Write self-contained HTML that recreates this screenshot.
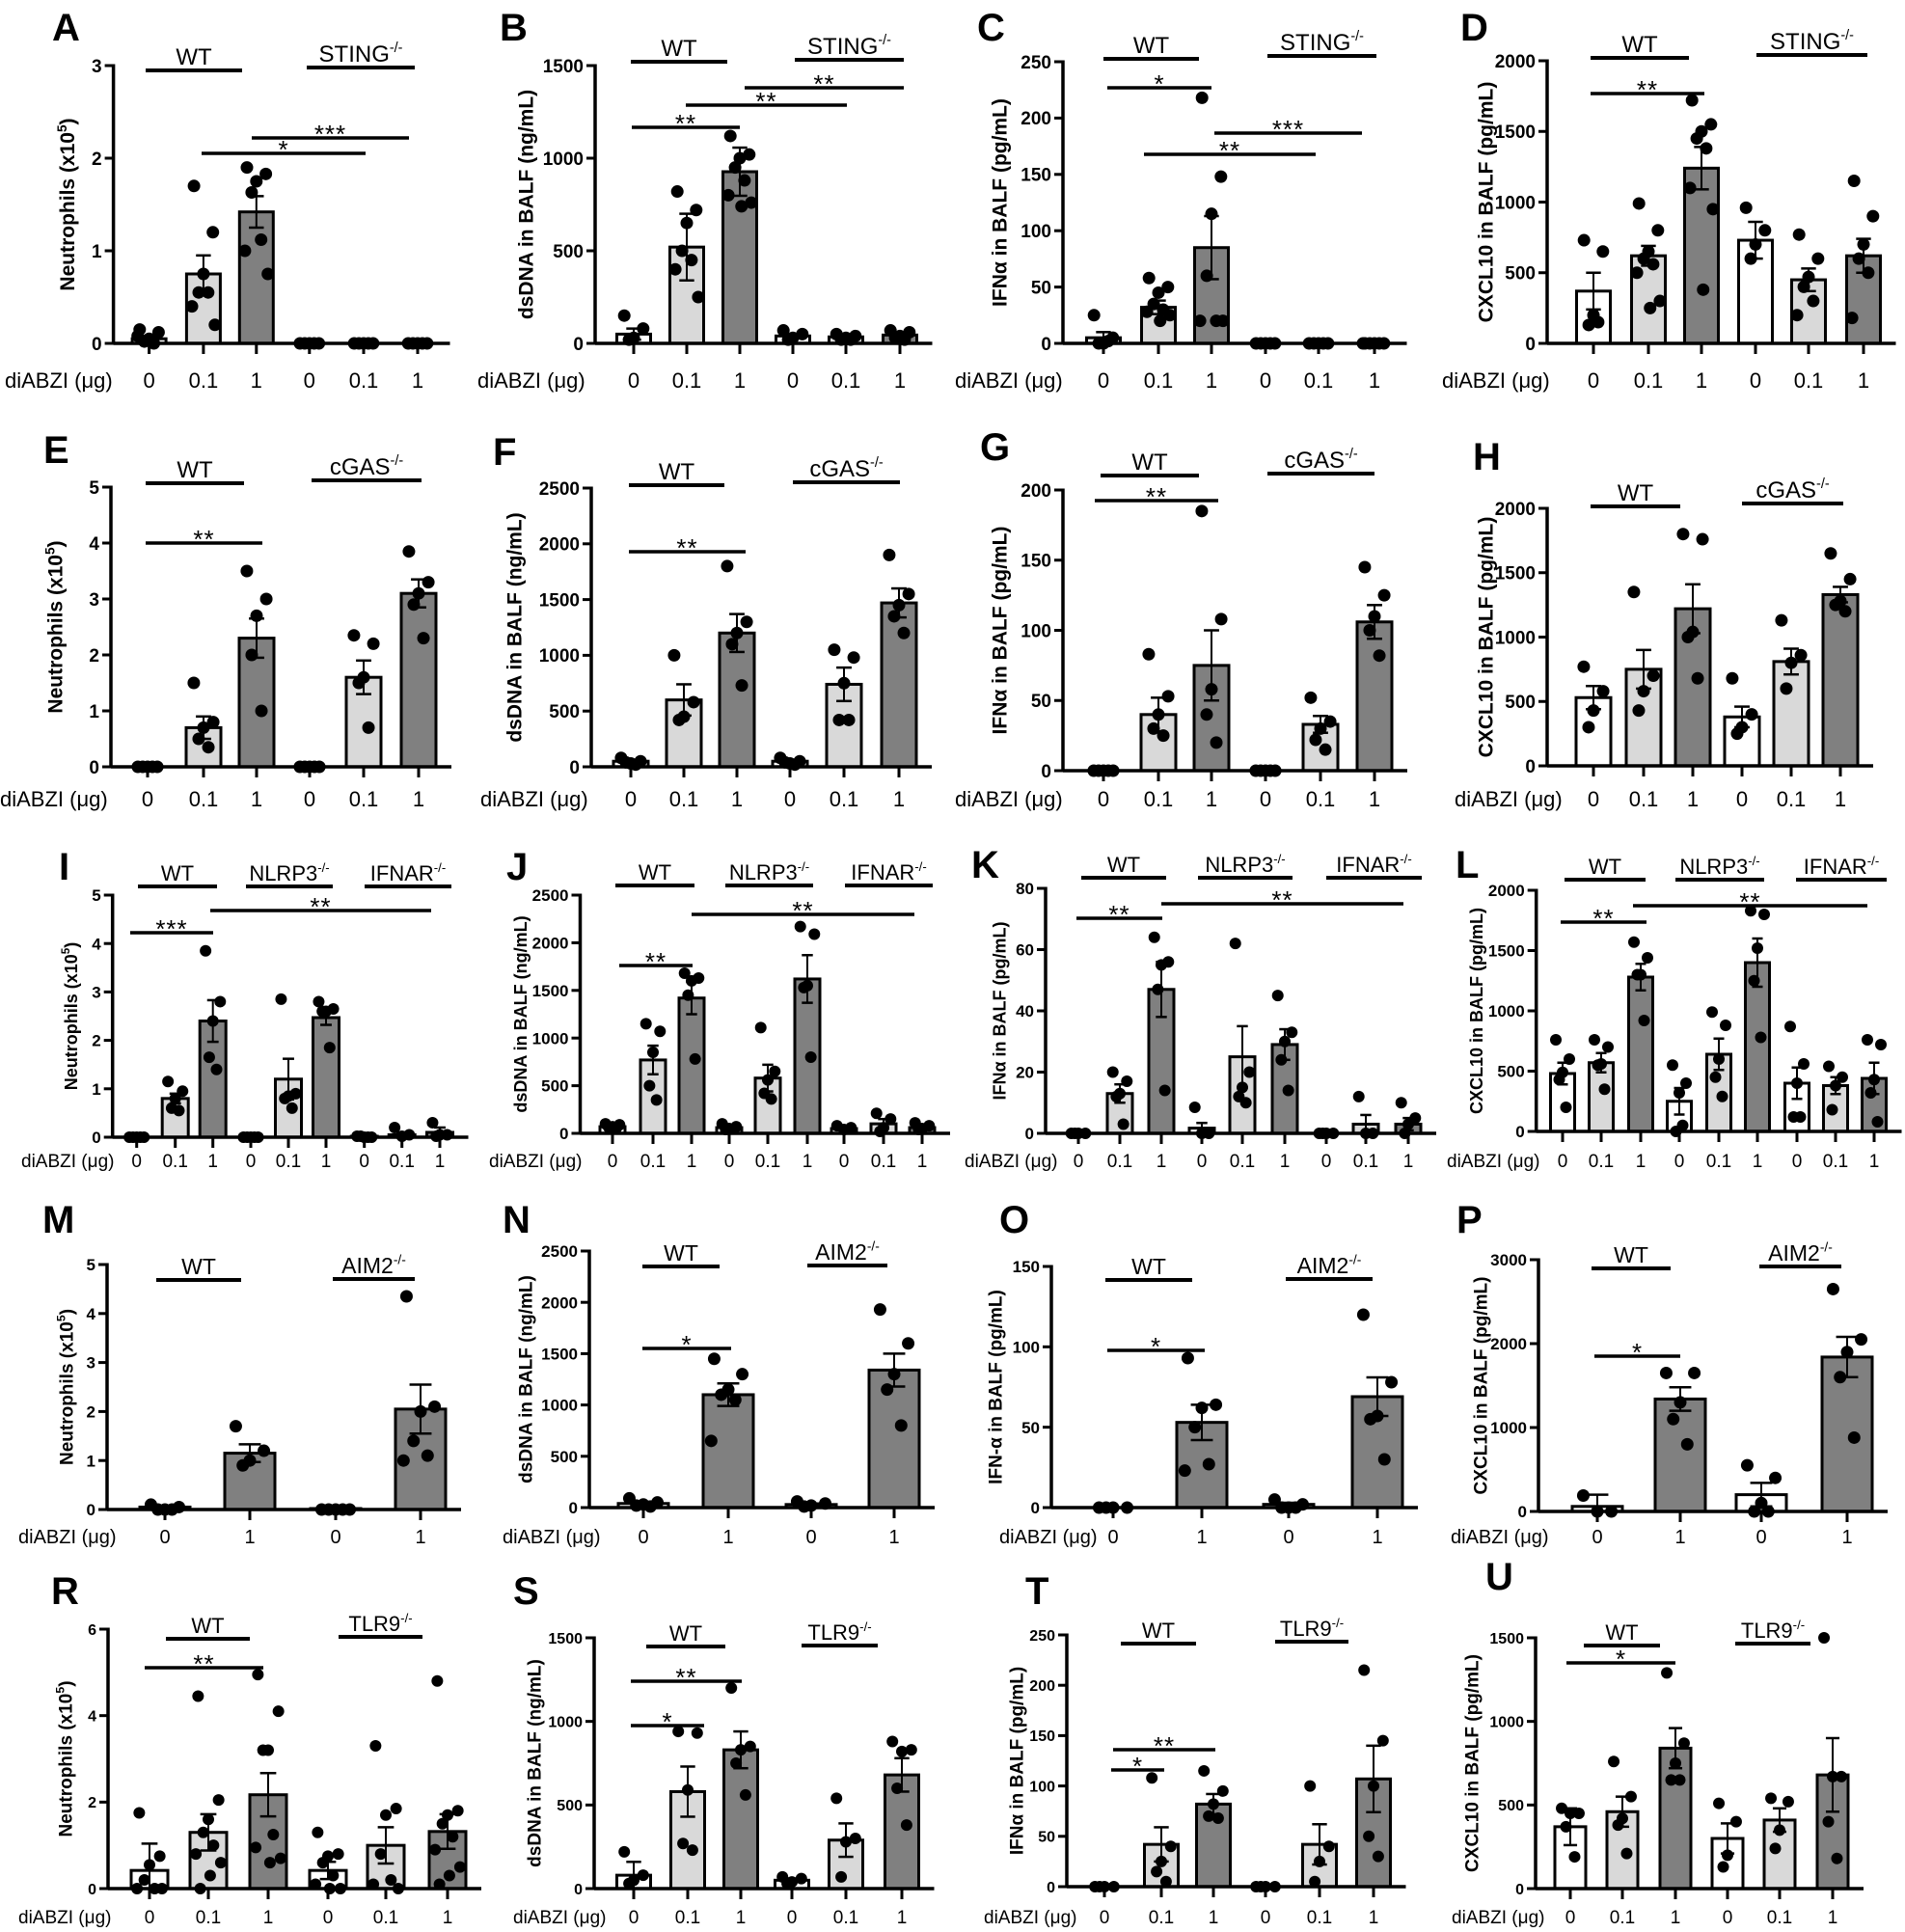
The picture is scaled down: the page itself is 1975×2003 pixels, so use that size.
<!DOCTYPE html>
<html><head><meta charset="utf-8">
<style>
html,body{margin:0;padding:0;background:#fff;}
svg{display:block;}
text{font-family:"Liberation Sans",Arial,sans-serif;fill:#000;}
</style></head>
<body>
<svg id="s" xmlns="http://www.w3.org/2000/svg" width="1975" height="2003" viewBox="0 0 1975 2003"></svg>
<script>
var NS="http://www.w3.org/2000/svg";
var S=document.getElementById('s');
function el(t,a,txt){var e=document.createElementNS(NS,t);for(var k in a)e.setAttribute(k,a[k]);if(txt!==undefined)e.textContent=txt;S.appendChild(e);return e;}
function line(x1,y1,x2,y2,w){el('line',{x1:x1,y1:y1,x2:x2,y2:y2,stroke:'#000','stroke-width':w});}
var Z=[0,0,[0,0,0,0,0]];
var F3=['#ffffff','#d9d9d9','#808080'];
var F4=['#ffffff','#808080','#ffffff','#808080'];
var RF={1:{t:19,x:22,g:24,y:21,r:6.5,xly:402},2:{t:19,x:22,g:24,y:21,r:6.5,xly:836},3:{t:17,x:19,g:22,y:18,r:6,xly:1210},4:{t:17,x:20,g:23,y:19,r:6.5,xly:1600},5:{t:16,x:19,g:22,y:19,r:6,xly:1994}};
var offs=[-0.28,0.28,0,-0.14,0.14,-0.34,0.34,0.05,-0.22,0.22];
var YO={A:48,B:72,C:66,D:64,E:58,F:80,G:66,H:64,I:43,J:62,K:48,L:62,M:42,N:66,O:58,P:60,R:44,S:62,T:52,U:66};
var P=[
{L:'A',row:1,ax:117.6,y0:356,yt:68,ymax:3,step:1,bw:35,bx:[154.6,210.9,265.8,320.8,377,433],
 d:[[0.05,0.03,[0.15,0.12,0.05,0.02,0,0.08]],[0.75,0.2,[1.7,1.2,0.75,0.55,0.55,0.4,0.2]],[1.42,0.17,[1.9,1.83,1.75,1.63,1.12,1.0,0.75]],Z,Z,Z],
 g:[[151,251,73,'WT'],[318,430,70,'STING','-/-']],br:[[261,424,143,'***'],[209,379,159,'*']],lt:[54,42],dl:5,yl:'Neutrophils  (x10',ysup:'5'},
{L:'B',row:1,ax:617,y0:356,yt:68,ymax:1500,step:500,bw:35,bx:[657,712,767,822,877,933],
 d:[[50,30,[150,80,30,20]],[520,180,[820,720,650,500,450,400,250]],[927,130,[1120,1020,1000,950,880,800,760,740]],[40,10,[70,50,30,20]],[35,8,[50,40,30,20,20]],[45,10,[70,60,40,30,20]]],
 g:[[654,754,64,'WT'],[824,937,62,'STING','-/-']],br:[[655,767,132,'**'],[711,878,109,'**'],[772,937,91,'**']],lt:[518,42],dl:495,yl:'dsDNA in BALF (ng/mL)'},
{L:'C',row:1,ax:1102,y0:356,yt:64,ymax:250,step:50,bw:35,bx:[1144,1201,1256,1312,1367,1425],
 d:[[5,5,[25,5,0,0,2]],[32,6,[58,50,45,35,30,28,25,20]],[85,28,[218,148,115,60,20,20,20]],Z,Z,[0,0,[0,0,0,0,0,0]]],
 g:[[1144,1243,61,'WT'],[1314,1427,58,'STING','-/-']],br:[[1148,1256,91,'*'],[1259,1412,138,'***'],[1186,1364,160,'**']],lt:[1013,42],dl:990,yl:'IFNα in BALF (pg/mL)'},
{L:'D',row:1,ax:1604,y0:356,yt:63,ymax:2000,step:500,bw:35,bx:[1652,1709,1764,1820,1875,1932],
 d:[[370,130,[730,650,200,130,150]],[620,70,[990,800,650,600,560,500,300,250]],[1240,150,[1720,1550,1500,1450,1380,1100,950,380]],[730,130,[960,800,700,600]],[450,80,[770,600,470,400,300,200]],[620,120,[1150,900,700,600,500,180]]],
 g:[[1649,1751,60,'WT'],[1821,1936,57,'STING','-/-']],br:[[1649,1767,97,'**']],lt:[1514,42],dl:1495,yl:'CXCL10 in BALF (pg/mL)'},

{L:'E',row:2,ax:115,y0:795,yt:505,ymax:5,step:1,bw:36,bx:[153,211,266,321,377,434],
 d:[Z,[0.7,0.2,[1.5,0.8,0.7,0.5,0.35]],[2.3,0.35,[3.5,3.0,2.7,2.0,1.0]],Z,[1.6,0.3,[2.35,2.2,1.6,1.5,0.7]],[3.1,0.25,[3.85,3.3,3.1,2.9,2.3]]],
 g:[[151,253,501,'WT'],[323,437,498,'cGAS','-/-']],br:[[151,272,563,'**']],lt:[45,480],dl:0,yl:'Neutrophils  (x10',ysup:'5'},
{L:'F',row:2,ax:613,y0:795,yt:506,ymax:2500,step:500,bw:36,bx:[654,709,764,819,875,932],
 d:[[50,10,[80,50,30,40,20]],[600,140,[1000,580,450,420]],[1200,170,[1800,1300,1200,1100,730]],[50,10,[80,50,30,40,20]],[740,150,[1050,980,750,420,420]],[1470,130,[1900,1550,1450,1350,1200]]],
 g:[[652,751,503,'WT'],[822,933,500,'cGAS','-/-']],br:[[652,773,572,'**']],lt:[511,482],dl:498,yl:'dsDNA in BALF (ng/mL)'},
{L:'G',row:2,ax:1102,y0:799,yt:508,ymax:200,step:50,bw:36,bx:[1144,1201,1256,1312,1369,1425],
 d:[Z,[40,12,[83,53,40,30,25]],[75,25,[185,108,58,40,20]],Z,[33,6,[52,35,30,22,15]],[106,12,[145,125,110,100,82]]],
 g:[[1141,1243,493,'WT'],[1314,1425,491,'cGAS','-/-']],br:[[1135,1263,519,'**']],lt:[1016,477],dl:990,yl:'IFNα in BALF (pg/mL)'},
{L:'H',row:2,ax:1604,y0:794,yt:527,ymax:2000,step:500,bw:36,bx:[1652,1704,1755,1806,1857,1908],
 d:[[530,90,[770,580,430,300]],[750,150,[1350,700,580,430]],[1220,190,[1800,1760,1040,1000,680]],[380,80,[680,400,300,250]],[810,100,[1130,860,800,600]],[1330,60,[1650,1450,1280,1250,1200]]],
 g:[[1649,1742,525,'WT'],[1806,1911,522,'cGAS','-/-']],br:[],lt:[1527,487],dl:1508,yl:'CXCL10 in BALF (pg/mL)'},

{L:'I',row:3,ax:116.7,y0:1179,yt:928,ymax:5,step:1,bw:27,bx:[141.7,181.7,220.7,260,299,338,377.7,416.7,456],
 d:[Z,[0.8,0.1,[1.15,0.95,0.8,0.6,0.55]],[2.4,0.43,[3.85,2.8,2.4,1.65,1.4]],Z,[1.2,0.42,[2.85,0.9,0.85,0.8,0.6]],[2.47,0.15,[2.8,2.65,2.6,2.6,1.85]],[0.02,0,[0.02,0,0,0.02,0]],[0.05,0.05,[0.2,0.05,0.02]],[0.1,0.1,[0.3,0.05,0.05,0.02]]],
 g:[[143,225,919,'WT'],[255,345,919,'NLRP3','-/-'],[378,468,919,'IFNAR','-/-']],br:[[135,221,967,'***'],[218,447,944,'**']],lt:[61,912],dl:22,yl:'Neutrophils (x10',ysup:'5'},
{L:'J',row:3,ax:601.5,y0:1175,yt:928,ymax:2500,step:500,bw:26,bx:[635,677,717,756,796,837,875,916,956],
 d:[[70,15,[100,90,70,60,50]],[770,150,[1150,1070,850,500,350]],[1420,170,[1680,1630,1600,1450,780]],[60,15,[100,70,50,40]],[580,140,[1110,650,560,420,360]],[1620,250,[2170,2090,1550,1530,800]],[50,10,[80,60,40]],[100,50,[210,150,60,20]],[60,15,[110,80,50,40]]],
 g:[[638,720,918,'WT'],[752,843,918,'NLRP3','-/-'],[876,967,918,'IFNAR','-/-']],br:[[642,718,1001,'**'],[717,948,948,'**']],lt:[525,912],dl:507,yl:'dsDNA in BALF (ng/mL)'},
{L:'K',row:3,ax:1084,y0:1175,yt:921,ymax:80,step:20,bw:26,bx:[1118,1161,1204,1246,1288,1332,1375,1416,1460],
 d:[[0,0,[0,0,0,0]],[13,3,[20,17,13,12,3]],[47,9,[64,56,55,47,14]],[1.7,1.7,[8.5,0,0]],[25,10,[62,20,15,12,10]],[29,5,[45,33,30,24,14]],[0,0,[0,0,0,0]],[3,3,[12,0,0]],[3,2,[10,5,3,0]]],
 g:[[1121,1209,910,'WT'],[1242,1340,910,'NLRP3','-/-'],[1375,1474,910,'IFNAR','-/-']],br:[[1116,1205,952,'**'],[1204,1455,937,'**']],lt:[1007,910],dl:1000,yl:'IFNα in BALF (pg/mL)'},
{L:'L',row:3,ax:1592.7,y0:1173,yt:923,ymax:2000,step:500,bw:25,bx:[1620,1660,1701,1741,1782,1822,1863,1903,1943],
 d:[[480,90,[760,600,490,430,200]],[570,80,[760,700,560,550,350]],[1280,110,[1570,1440,1300,1300,920]],[250,110,[550,400,320,0,50]],[640,130,[990,880,600,450,290]],[1400,200,[1830,1800,1520,1250,780]],[400,130,[870,560,400,120,120]],[380,70,[540,450,380,180]],[440,130,[760,720,430,320,80]]],
 g:[[1622,1706,912,'WT'],[1737,1829,912,'NLRP3','-/-'],[1862,1956,912,'IFNAR','-/-']],br:[[1618,1707,956,'**'],[1693,1936,939,'**']],lt:[1509,910],dl:1500,yl:'CXCL10 in BALF (pg/mL)'},

{L:'M',row:4,ax:111,y0:1565,yt:1311,ymax:5,step:1,bw:52,four:1,bx:[171,259,348,436],
 d:[[0.05,0.02,[0.1,0.05,0,0,0]],[1.15,0.18,[1.7,1.2,1.0,0.9]],[0.02,0,[0,0,0,0,0]],[2.05,0.5,[4.35,2.1,2.0,1.4,1.1,1.0]]],
 g:[[162,250,1327,'WT'],[345,430,1326,'AIM2','-/-']],br:[],lt:[44,1278],dl:19,yl:'Neutrophils (x10',ysup:'5'},
{L:'N',row:4,ax:611,y0:1563,yt:1297,ymax:2500,step:500,bw:52,four:1,bx:[667,755,841,927],
 d:[[40,15,[90,50,30,20,10]],[1100,110,[1450,1300,1150,1100,1050,650]],[30,10,[60,40,20,10]],[1340,160,[1930,1600,1300,1150,800]]],
 g:[[666,746,1313,'WT'],[837,920,1312,'AIM2','-/-']],br:[[666,758,1398,'*']],lt:[521,1278],dl:521,yl:'dsDNA in BALF (ng/mL)'},
{L:'O',row:4,ax:1090,y0:1563,yt:1313,ymax:150,step:50,bw:52,four:1,bx:[1154,1246,1336,1428],
 d:[[0,0,[0,0,0,0]],[53,11,[93,64,62,50,27,23]],[2,1,[5,2,0,0,0]],[69,12,[120,78,57,55,30]]],
 g:[[1146,1236,1327,'WT'],[1333,1423,1326,'AIM2','-/-']],br:[[1148,1249,1400,'*']],lt:[1036,1278],dl:1036,yl:'IFN-α in BALF (pg/mL)'},
{L:'P',row:4,ax:1595,y0:1567,yt:1306,ymax:3000,step:1000,bw:52,four:1,bx:[1656,1742,1826,1915],
 d:[[60,140,[190,0,0]],[1340,140,[1650,1650,1300,1100,800]],[200,140,[550,400,100,0,0]],[1840,240,[2650,2050,1900,1600,880]]],
 g:[[1650,1732,1315,'WT'],[1824,1909,1313,'AIM2','-/-']],br:[[1653,1742,1406,'*']],lt:[1510,1278],dl:1504,yl:'CXCL10 in BALF (pg/mL)'},

{L:'R',row:5,ax:112,y0:1958,yt:1689,ymax:6,step:2,bw:38,bx:[155,216,278,340,400,464],
 d:[[0.42,0.62,[1.75,0.75,0.55,0.2,0,0,0]],[1.3,0.42,[4.45,2.05,1.6,1.3,1.0,0.8,0.6,0.3,0]],[2.17,0.5,[4.95,4.1,3.2,3.2,1.25,0.95,0.7,0.6]],[0.42,0.2,[1.3,0.8,0.75,0.6,0.3,0.1,0,0]],[1.0,0.42,[3.3,1.85,1.7,0.8,0.2,0.1,0]],[1.32,0.4,[4.8,1.8,1.7,1.5,1.2,0.9,0.5,0.3,0.1]]],
 g:[[172,259,1699,'WT'],[351,438,1697,'TLR9','-/-']],br:[[150,273,1729,'**']],lt:[53,1663],dl:19,yl:'Neutrophils  (x10',ysup:'5'},
{L:'S',row:5,ax:616,y0:1958,yt:1698,ymax:1500,step:500,bw:35,bx:[657,713,768,821,877,935],
 d:[[80,80,[220,80,50,30]],[580,150,[940,930,590,270,230]],[830,110,[1200,850,830,750,560]],[50,10,[70,60,40,30]],[290,100,[540,300,280,70]],[680,100,[880,830,820,600,380]]],
 g:[[670,752,1707,'WT'],[831,910,1706,'TLR9','-/-']],br:[[654,769,1743,'**'],[654,730,1789,'*']],lt:[532,1663],dl:532,yl:'dsDNA in BALF (ng/mL)'},
{L:'T',row:5,ax:1106,y0:1956,yt:1695,ymax:250,step:50,bw:35,bx:[1145,1204,1258,1312,1368,1424],
 d:[[0,0,[0,0,0,0]],[42,17,[108,40,25,15,5]],[82,10,[115,95,82,70,68]],[0,0,[0,0,0,0]],[42,20,[100,40,25,5]],[107,33,[215,145,100,50,30]]],
 g:[[1162,1240,1704,'WT'],[1322,1398,1702,'TLR9','-/-']],br:[[1154,1260,1814,'**'],[1152,1207,1835,'*']],lt:[1063,1663],dl:1020,yl:'IFNα in BALF (pg/mL)'},
{L:'U',row:5,ax:1592,y0:1958,yt:1698,ymax:1500,step:500,bw:32,bx:[1628,1682,1737,1791,1845,1900],
 d:[[370,110,[480,450,450,370,190]],[460,90,[760,550,420,380,210]],[840,120,[1290,870,750,650,650]],[300,90,[510,400,200,130]],[410,70,[540,520,350,240]],[680,220,[1500,670,670,400,180]]],
 g:[[1642,1721,1706,'WT'],[1799,1877,1704,'TLR9','-/-']],br:[[1624,1737,1724,'*']],lt:[1540,1648],dl:1505,yl:'CXCL10 in BALF (pg/mL)'}
];
P.forEach(function(p){
  var f=RF[p.row];
  var Y=function(v){return p.y0-v/p.ymax*(p.y0-p.yt);};
  var last=p.bx[p.bx.length-1];
  el('text',{x:p.lt[0],y:p.lt[1],'font-size':40,'font-weight':'bold'},p.L);
  line(p.ax,p.yt-1.5,p.ax,p.y0+1.5,3.5);
  for(var v=0;v<=p.ymax+1e-9;v+=p.step){
    var yy=Y(v);line(p.ax-9,yy,p.ax,yy,3);
    el('text',{x:p.ax-12,y:yy+f.t*0.36,'font-size':f.t,'font-weight':'bold','text-anchor':'end'},String(Math.round(v)));
  }
  var cy=(p.y0+p.yt)/2, cx=p.ax-YO[p.L];
  var t=el('text',{x:0,y:0,'font-size':f.y,'font-weight':'bold','text-anchor':'middle',transform:'translate('+(cx+f.y*0.35)+','+cy+') rotate(-90)'});
  t.textContent=p.yl;
  if(p.ysup){var ts=document.createElementNS(NS,'tspan');ts.setAttribute('dy',-8);ts.setAttribute('font-size',f.y*0.65);ts.textContent=p.ysup;t.appendChild(ts);
    var ts2=document.createElementNS(NS,'tspan');ts2.setAttribute('dy',8);ts2.textContent=')';t.appendChild(ts2);}
  var fills=p.four?F4:F3;
  p.bx.forEach(function(x,i){
    var d=p.d[i],m=d[0],e=d[1],bw=p.bw;
    var top=Y(m);
    if(p.y0-top>1) el('rect',{x:x-bw/2,y:top,width:bw,height:p.y0-top,fill:fills[i%fills.length],stroke:'#000','stroke-width':3});
    d[2].forEach(function(v,k){
      el('circle',{cx:x+offs[k%offs.length]*bw,cy:Y(v),r:f.r,fill:'#000'});
    });
    if(e>0){
      var a=Y(m+e),b=Y(Math.max(0,m-e)),cw=bw*0.22;
      line(x,a,x,b,2);line(x-cw,a,x+cw,a,2.5);line(x-cw,b,x+cw,b,2.5);
    }
    line(x,p.y0,x,p.y0+11,3);
    var lab=p.four?(i%2?'1':'0'):['0','0.1','1'][i%3];
    el('text',{x:x,y:f.xly,'font-size':f.x,'text-anchor':'middle'},lab);
  });
  line(p.ax,p.y0,last+p.bw/2+16,p.y0,3.5);
  el('text',{x:p.dl,y:f.xly,'font-size':f.x},'diABZI (μg)');
  p.g.forEach(function(g){
    line(g[0],g[2],g[1],g[2],4);
    var tx=el('text',{x:(g[0]+g[1])/2,y:g[2]-6,'font-size':f.g,'text-anchor':'middle'},g[3]);
    if(g[4]){var ts=document.createElementNS(NS,'tspan');ts.setAttribute('dy',-f.g*0.42);ts.setAttribute('font-size',f.g*0.6);ts.textContent=g[4];tx.appendChild(ts);}
  });
  p.br.forEach(function(b){
    line(b[0],b[2],b[1],b[2],3.5);
    el('text',{x:(b[0]+b[1])/2,y:b[2]+5,'font-size':26,'text-anchor':'middle','letter-spacing':'1'},b[3]);
  });
});
</script>
</body></html>
